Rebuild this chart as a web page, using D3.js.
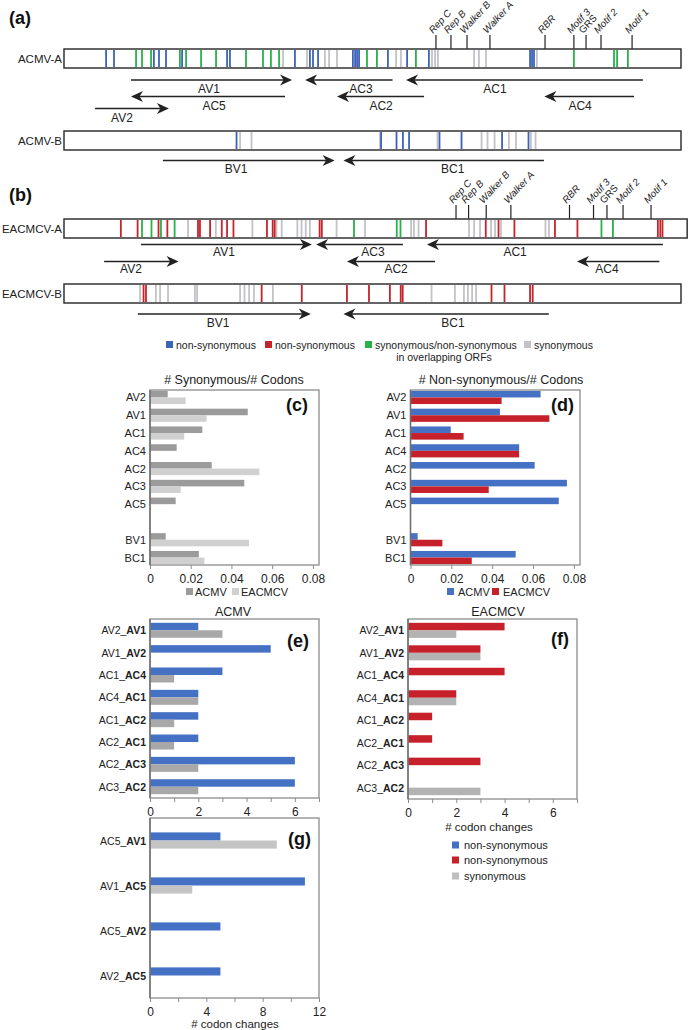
<!DOCTYPE html>
<html>
<head>
<meta charset="utf-8">
<script src="https://cdn.jsdelivr.net/npm/d3@7"></script>
<style>
body { margin: 0; background: #fff; }
svg { font-family: "Liberation Sans", Arial, sans-serif; }
</style>
</head>
<body>
<script>
// ---- genome tracks: positions (nt) of codon changes ----
var acmvA_nonsyn = [191,227,408,431,463,536,740,753,1048,1116,1130,1153,1311,1321,1330,1339,1470,1557,1656,2115,2124,2133];
var acmvA_overlap = [327,354,395,526,554,622,690,826,903,939,976,1375,1420,1597,2314,2496,2510,2559];
var acmvA_syn = [994,1103,1184,1203,1239,1507,1529,1670,1684,1697,1861,1883,1915,2146];

var acmvB_nonsyn = [783,1439,1509,1538,1566,1704,1804,1988,2108];
var acmvB_syn = [799,851,1434,1695,1895,1922,1954,2019,2051,2119,2140];

var eacA_nonsyn = [258,334,429,469,608,617,663,716,740,769,921,947,956,1160,1170,1643,1914,1972,2044,2228,2330,2695,2706,2716];
var eacA_overlap = [354,397,440,502,1316,1510,1527,2439,2491];
var eacA_syn = [563,689,855,964,988,1059,1078,1097,1116,1237,1366,1575,1588,1609,1838,1861,1888,1938,1956,1983,2185,2201];

var eacB_nonsyn = [361,372,897,1079,1284,1384,1479,1528,1537,1940,1999,2115,2127];
var eacB_syn = [345,417,436,472,594,604,799,819,840,862,948,1668,1774,1815,1833,1852,1870];

// motifs in Rep (AC1)
var motifNames = ["Rep C","Rep B","Walker B","Walker A","RBR","Motif 3","GRS","Motif 2","Motif 1"];
var acmvA_motifs = [1688,1756,1829,1933,2183,2314,2369,2437,2578];
var eacA_motifs = [1779,1836,1916,2028,2294,2403,2464,2537,2664];

// ORFs: name, start, end, label anchor (nt)
var acmvA_genes = [["AV1",304,1035,658],["AC3",1491,1094,1348],["AC1",2627,1552,1956],
                   ["AC5",1003,304,681],["AC2",1634,1239,1439],["AC4",2587,2180,2342],["AV2",141,476,263]];
var acmvB_genes = [["BV1",449,1228,781],["BC1",2178,1268,1764]];
var eacA_genes = [["AV1",349,1125,726],["AC3",1538,1144,1402],["AC1",2718,1647,2047],
                  ["AV2",182,520,304],["AC2",1684,1284,1507],["AC4",2702,2328,2464]];
var eacB_genes = [["BV1",335,1120,699],["BC1",2200,1268,1765]];

// ---- (c) / (d) ----
var orfs = ["AV2","AV1","AC1","AC4","AC2","AC3","AC5"," ","BV1","BC1"];
var syn_acmv = [0.0087,0.048,0.0257,0.0131,0.0303,0.0463,0.0126,null,0.0077,0.024];
var syn_eacmcv = [0.0175,0.0278,0.0168,0,0.0537,0.0151,0,null,0.0486,0.0267];
var nonsyn_acmv = [0.0637,0.0438,0.0197,0.0532,0.0608,0.0766,0.0726,null,0.0035,0.0515];
var nonsyn_eacmcv = [0.0446,0.068,0.026,0.0532,0,0.0383,0,null,0.0156,0.03];

// ---- (e) / (f) / (g) overlapping ORF pairs ----
var pairs = [["AV2","AV1"],["AV1","AV2"],["AC1","AC4"],["AC4","AC1"],["AC1","AC2"],["AC2","AC1"],["AC2","AC3"],["AC3","AC2"]];
var acmv_ns = [2,5,3,2,2,2,6,6];
var acmv_s = [3,0,1,2,1,1,2,2];
var eac_ns = [4,3,4,2,1,1,3,0];
var eac_s = [2,3,0,2,0,0,0,3];
var pairsAC5 = [["AC5","AV1"],["AV1","AC5"],["AC5","AV2"],["AV2","AC5"]];
var ac5_ns = [5,11,5,5];
var ac5_s = [9,3,0,0];

var BLUE = "#3d62b7", RED = "#c4242c", GREEN = "#27b24a", GREY = "#c2c2c8";
var BARBLUE = "#4571c4", BARRED = "#c6212b";

var svg = d3.select("body").append("svg")
    .attr("width", 689)
    .attr("height", 1030);

var x = d3.scaleLinear().domain([0, 2800]).range([64, 681]);

function panelLabel(t, px, py) {
  svg.append("text").attr("x", px).attr("y", py)
    .attr("font-size", 18).attr("font-weight", "bold").attr("fill", "#111").text(t);
}

function track(name, top, len, marks) {
  var h = 19;
  svg.append("text").attr("x", 62).attr("y", top + h / 2 + 4)
    .attr("text-anchor", "end").attr("font-size", 11.5).attr("fill", "#222").text(name);
  marks.forEach(function(m) {
    svg.append("g").selectAll("line").data(m.pos).enter().append("line")
      .attr("x1", function(d) { return x(d); }).attr("x2", function(d) { return x(d); })
      .attr("y1", top + 1).attr("y2", top + h - 1)
      .attr("stroke", m.color).attr("stroke-width", 1.8);
  });
  svg.append("rect").attr("x", x(0)).attr("y", top).attr("width", x(len) - x(0)).attr("height", h)
    .attr("fill", "none").attr("stroke", "#333").attr("stroke-width", 1.5);
}

function motifs(pos, top) {
  var g = svg.append("g");
  pos.forEach(function(p, i) {
    g.append("line").attr("x1", x(p)).attr("x2", x(p)).attr("y1", top - 14).attr("y2", top)
      .attr("stroke", "#222").attr("stroke-width", 1.2);
    g.append("text")
      .attr("transform", "translate(" + (x(p) - 3) + "," + (top - 15) + ") rotate(-47)")
      .attr("font-size", 9.8).attr("font-style", motifNames[i] == "GRS" ? "normal" : "italic")
      .attr("fill", "#222").text(motifNames[i]);
  });
}

function genes(list, rows, rowY, labelDy) {
  list.forEach(function(d) {
    var y = rowY[rows[d[0]]];
    var x0 = x(d[1]), x1 = x(d[2]);
    var dir = x1 > x0 ? 1 : -1;
    svg.append("line").attr("x1", x0).attr("x2", x1 - dir * 8).attr("y1", y).attr("y2", y)
      .attr("stroke", "#222").attr("stroke-width", 1.5);
    svg.append("path")
      .attr("d", "M" + x1 + "," + y + "L" + (x1 - dir * 12) + "," + (y - 5.5) +
        "L" + (x1 - dir * 8.5) + "," + y + "L" + (x1 - dir * 12) + "," + (y + 5.5) + "Z")
      .attr("fill", "#222");
    svg.append("text").attr("x", x(d[3])).attr("y", y + labelDy)
      .attr("text-anchor", "middle").attr("font-size", 12).attr("fill", "#222").text(d[0]);
  });
}

// (a)
panelLabel("(a)", 9, 24);
motifs(acmvA_motifs, 49);
track("ACMV-A", 49, 2800, [{pos: acmvA_syn, color: GREY}, {pos: acmvA_overlap, color: GREEN}, {pos: acmvA_nonsyn, color: BLUE}]);
genes(acmvA_genes, {AV1: 0, AC3: 0, AC1: 0, AC5: 1, AC2: 1, AC4: 1, AV2: 2}, [80, 96.5, 108.5], 13);
track("ACMV-B", 131, 2800, [{pos: acmvB_syn, color: GREY}, {pos: acmvB_nonsyn, color: BLUE}]);
genes(acmvB_genes, {BV1: 0, BC1: 0}, [160.5], 12.5);

// (b)
panelLabel("(b)", 9, 201);
motifs(eacA_motifs, 219);
track("EACMCV-A", 219, 2828, [{pos: eacA_syn, color: GREY}, {pos: eacA_overlap, color: GREEN}, {pos: eacA_nonsyn, color: RED}]);
genes(eacA_genes, {AV1: 0, AC3: 0, AC1: 0, AV2: 1, AC2: 1, AC4: 1}, [244.5, 261.5], 11.5);
track("EACMCV-B", 284, 2800, [{pos: eacB_syn, color: GREY}, {pos: eacB_nonsyn, color: RED}]);
genes(eacB_genes, {BV1: 0, BC1: 0}, [314], 12.5);

// legend for the tracks
var leg = [[BLUE, "non-synonymous", 166], [RED, "non-synonymous", 265], [GREEN, "synonymous/non-synonymous", 365], [GREY, "synonymous", 524]];
leg.forEach(function(l) {
  svg.append("rect").attr("x", l[2]).attr("y", 341).attr("width", 7).attr("height", 7).attr("fill", l[0]);
  svg.append("text").attr("x", l[2] + 10).attr("y", 348.5).attr("font-size", 10.5).attr("fill", "#222").text(l[1]);
});
svg.append("text").attr("x", 444).attr("y", 361).attr("text-anchor", "middle")
  .attr("font-size", 10.5).attr("fill", "#222").text("in overlapping ORFs");

// horizontal grouped bar chart
function barChart(o) {
  var g = svg.append("g");
  var xs = d3.scaleLinear().domain([0, o.max]).range([o.x0, o.x1]);
  var y = d3.scaleBand().domain(d3.range(o.cats.length)).range([o.y0, o.y1])
    .paddingInner(o.padIn).paddingOuter(o.padOut);
  var sub = d3.scaleBand().domain(d3.range(o.series.length)).range([0, y.bandwidth()]);
  o.series.forEach(function(s, si) {
    s.values.forEach(function(v, i) {
      if (!v) return;
      g.append("rect").attr("x", xs(0)).attr("y", y(i) + sub(si))
        .attr("width", xs(v) - xs(0)).attr("height", sub.bandwidth())
        .attr("fill", s.color);
    });
  });
  // frame
  g.append("rect").attr("x", o.x0).attr("y", o.y0).attr("width", o.x1 - o.x0).attr("height", o.y1 - o.y0)
    .attr("fill", "none").attr("stroke", "#8c8c8c").attr("stroke-width", 1.3);
  g.append("line").attr("x1", o.x0).attr("x2", o.x0).attr("y1", o.y0).attr("y2", o.y1)
    .attr("stroke", "#6e6e6e").attr("stroke-width", 1.4);
  // x axis
  var ax = g.append("g").attr("transform", "translate(0," + o.y1 + ")")
    .call(d3.axisBottom(xs).tickValues(o.ticks).tickSize(4).tickFormat(o.fmt));
  ax.select(".domain").remove();
  ax.selectAll("line").attr("stroke", "#8c8c8c");
  ax.selectAll("text").attr("font-size", 12).attr("fill", "#222").attr("dy", "0.9em")
    .attr("font-family", "Liberation Sans, Arial, sans-serif");
  // category labels
  o.cats.forEach(function(c, i) {
    if (c == " ") return;
    var t = g.append("text").attr("x", o.x0 - 4).attr("y", y(i) + y.bandwidth() / 2 + 4)
      .attr("text-anchor", "end").attr("font-size", o.labelSize).attr("fill", "#222");
    if (Array.isArray(c)) {
      t.append("tspan").text(c[0] + "_");
      t.append("tspan").attr("font-weight", "bold").text(c[1]);
    } else {
      t.text(c);
    }
  });
}

var fmtDec = function(d) { return d === 0 ? "0" : d3.format(".2f")(d); };

// (c)
svg.append("text").attr("x", 234).attr("y", 384).attr("text-anchor", "middle").attr("font-size", 12.5).attr("fill", "#222").text("# Synonymous/# Codons");
barChart({x0: 150, x1: 319, y0: 390, y1: 565, max: 0.083, cats: orfs, padIn: 0.26, padOut: 0.05, labelSize: 11,
  series: [{values: syn_acmv, color: "#9b9b9b"}, {values: syn_eacmcv, color: "#d0d0d0"}],
  ticks: [0, 0.02, 0.04, 0.06, 0.08], fmt: fmtDec});
panelLabel("(c)", 286, 411);
[["#9b9b9b", "ACMV", 186], ["#d0d0d0", "EACMCV", 232]].forEach(function(l) {
  svg.append("rect").attr("x", l[2]).attr("y", 588).attr("width", 7).attr("height", 7).attr("fill", l[0]);
  svg.append("text").attr("x", l[2] + 9).attr("y", 595.5).attr("font-size", 11).attr("fill", "#222").text(l[1]);
});

// (d)
svg.append("text").attr("x", 501).attr("y", 384).attr("text-anchor", "middle").attr("font-size", 12.5).attr("fill", "#222").text("# Non-synonymous/# Codons");
barChart({x0: 410.5, x1: 580, y0: 390, y1: 565, max: 0.083, cats: orfs, padIn: 0.26, padOut: 0.05, labelSize: 11,
  series: [{values: nonsyn_acmv, color: BARBLUE}, {values: nonsyn_eacmcv, color: BARRED}],
  ticks: [0, 0.02, 0.04, 0.06, 0.08], fmt: fmtDec});
panelLabel("(d)", 551, 411);
[[BARBLUE, "ACMV", 447], [BARRED, "EACMCV", 492]].forEach(function(l) {
  svg.append("rect").attr("x", l[2]).attr("y", 588).attr("width", 7).attr("height", 7).attr("fill", l[0]);
  svg.append("text").attr("x", l[2] + 11).attr("y", 595.5).attr("font-size", 11).attr("fill", "#222").text(l[1]);
});

// (e)
svg.append("text").attr("x", 233).attr("y", 616).attr("text-anchor", "middle").attr("font-size", 12.5).attr("fill", "#222").text("ACMV");
barChart({x0: 150, x1: 319, y0: 619, y1: 798, max: 7, cats: pairs, padIn: 0.33, padOut: 0.17, labelSize: 10.5,
  series: [{values: acmv_ns, color: BARBLUE}, {values: acmv_s, color: "#a8a8a8"}],
  ticks: d3.range(0, 8), fmt: function(d) { return d % 2 ? "" : d; }});
panelLabel("(e)", 287, 647);

// (f)
svg.append("text").attr("x", 498).attr("y", 616).attr("text-anchor", "middle").attr("font-size", 12.5).attr("fill", "#222").text("EACMCV");
barChart({x0: 408, x1: 577, y0: 619, y1: 799, max: 7, cats: pairs, padIn: 0.33, padOut: 0.17, labelSize: 10.5,
  series: [{values: eac_ns, color: BARRED}, {values: eac_s, color: "#b3b3b3"}],
  ticks: d3.range(0, 8), fmt: function(d) { return d % 2 ? "" : d; }});
panelLabel("(f)", 551, 645);
svg.append("text").attr("x", 489).attr("y", 831).attr("text-anchor", "middle").attr("font-size", 11.5).attr("fill", "#222").text("# codon changes");
[[BARBLUE, "non-synonymous", 845], [BARRED, "non-synonymous", 860], ["#bfbfbf", "synonymous", 876]].forEach(function(l) {
  svg.append("rect").attr("x", 452).attr("y", l[2] - 3.5).attr("width", 7).attr("height", 7).attr("fill", l[0]);
  svg.append("text").attr("x", 464).attr("y", l[2] + 4).attr("font-size", 11).attr("fill", "#222").text(l[1]);
});

// (g)
barChart({x0: 150, x1: 319, y0: 818, y1: 998, max: 12, cats: pairsAC5, padIn: 0.64, padOut: 0.32, labelSize: 10.5,
  series: [{values: ac5_ns, color: BARBLUE}, {values: ac5_s, color: "#c4c4c4"}],
  ticks: d3.range(0, 13, 2), fmt: function(d) { return d % 4 ? "" : d; }});
panelLabel("(g)", 288, 845);
svg.append("text").attr("x", 235).attr("y", 1028).attr("text-anchor", "middle").attr("font-size", 11.5).attr("fill", "#222").text("# codon changes");
</script>
</body>
</html>
